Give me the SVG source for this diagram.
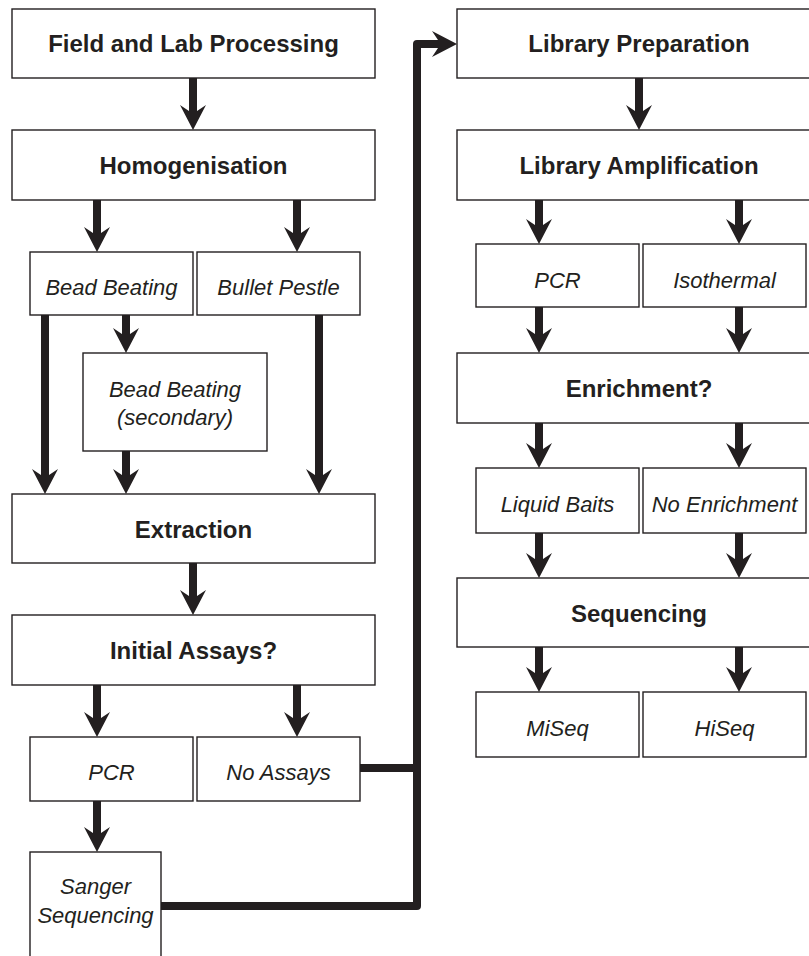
<svg xmlns="http://www.w3.org/2000/svg" width="809" height="956" viewBox="0 0 809 956">
<style>
.box{fill:#fff;stroke:#231f20;stroke-width:1.4}
.t{font-family:"Liberation Sans",Arial,sans-serif;fill:#231f20;text-anchor:middle}
.b{font-weight:bold;font-size:24px}
.i{font-style:italic;font-size:22px}
.c{fill:none;stroke:#231f20;stroke-width:8;stroke-linejoin:round}
.a{marker-end:url(#ah)}
</style>
<defs>
<marker id="ah" markerUnits="userSpaceOnUse" viewBox="-26 -14 27 28" markerWidth="27" markerHeight="28" refX="-19" refY="0" orient="auto">
<path d="M0,0 L-25,-13 L-19,-4 L-19,4 L-25,13 Z" fill="#231f20"/>
</marker>
</defs>
<rect width="809" height="956" fill="#fff"/>
<g id="connectors">
<line class="c a" x1="193" y1="78" x2="193" y2="111"/>
<line class="c a" x1="97" y1="200" x2="97" y2="233"/>
<line class="c a" x1="297" y1="200" x2="297" y2="233"/>
<line class="c a" x1="45" y1="315" x2="45" y2="475"/>
<line class="c a" x1="126" y1="315" x2="126" y2="334"/>
<line class="c a" x1="126" y1="451" x2="126" y2="475"/>
<line class="c a" x1="319" y1="315" x2="319" y2="475"/>
<line class="c a" x1="193" y1="563" x2="193" y2="596"/>
<line class="c a" x1="97" y1="685" x2="97" y2="718"/>
<line class="c a" x1="297" y1="685" x2="297" y2="718"/>
<line class="c a" x1="97" y1="801" x2="97" y2="833"/>
<path class="c a" d="M161,906 H417 V44 H438"/>
<path class="c" d="M360,768 H417"/>
<line class="c a" x1="639" y1="78" x2="639" y2="111"/>
<line class="c a" x1="539" y1="200" x2="539" y2="225"/>
<line class="c a" x1="739" y1="200" x2="739" y2="225"/>
<line class="c a" x1="539" y1="307" x2="539" y2="334"/>
<line class="c a" x1="739" y1="307" x2="739" y2="334"/>
<line class="c a" x1="539" y1="423" x2="539" y2="449"/>
<line class="c a" x1="739" y1="423" x2="739" y2="449"/>
<line class="c a" x1="539" y1="533" x2="539" y2="559"/>
<line class="c a" x1="739" y1="533" x2="739" y2="559"/>
<line class="c a" x1="539" y1="647" x2="539" y2="673"/>
<line class="c a" x1="739" y1="647" x2="739" y2="673"/>
</g>
<g id="field"><rect class="box" x="12" y="9" width="363" height="69"/><text class="t b" x="193.5" y="52">Field and Lab Processing</text></g>
<g id="homogenisation"><rect class="box" x="12" y="130" width="363" height="70"/><text class="t b" x="193.5" y="174">Homogenisation</text></g>
<g id="bead-beating"><rect class="box" x="30" y="252" width="163" height="63"/><text class="t i" x="111.5" y="295">Bead Beating</text></g>
<g id="bullet-pestle"><rect class="box" x="197" y="252" width="163" height="63"/><text class="t i" x="278.5" y="295">Bullet Pestle</text></g>
<g id="bead-beating-secondary"><rect class="box" x="83" y="353" width="184" height="98"/><text class="t i" x="175" y="397">Bead Beating</text><text class="t i" x="175" y="425">(secondary)</text></g>
<g id="extraction"><rect class="box" x="12" y="494" width="363" height="69"/><text class="t b" x="193.5" y="538">Extraction</text></g>
<g id="initial-assays"><rect class="box" x="12" y="615" width="363" height="70"/><text class="t b" x="193.5" y="659">Initial Assays?</text></g>
<g id="pcr-left"><rect class="box" x="30" y="737" width="163" height="64"/><text class="t i" x="111.5" y="780">PCR</text></g>
<g id="no-assays"><rect class="box" x="197" y="737" width="163" height="64"/><text class="t i" x="278.5" y="780">No Assays</text></g>
<g id="sanger"><rect class="box" x="30" y="852" width="131" height="120"/><text class="t i" x="95.5" y="894">Sanger</text><text class="t i" x="95.5" y="923">Sequencing</text></g>
<g id="library-preparation"><rect class="box" x="457" y="9" width="363" height="69"/><text class="t b" x="639" y="52">Library Preparation</text></g>
<g id="library-amplification"><rect class="box" x="457" y="130" width="363" height="70"/><text class="t b" x="639" y="174">Library Amplification</text></g>
<g id="pcr-right"><rect class="box" x="476" y="244" width="163" height="63"/><text class="t i" x="557.5" y="288">PCR</text></g>
<g id="isothermal"><rect class="box" x="643" y="244" width="163" height="63"/><text class="t i" x="724.5" y="288">Isothermal</text></g>
<g id="enrichment"><rect class="box" x="457" y="353" width="363" height="70"/><text class="t b" x="639" y="397">Enrichment?</text></g>
<g id="liquid-baits"><rect class="box" x="476" y="468" width="163" height="65"/><text class="t i" x="557.5" y="512">Liquid Baits</text></g>
<g id="no-enrichment"><rect class="box" x="643" y="468" width="163" height="65"/><text class="t i" x="724.5" y="512">No Enrichment</text></g>
<g id="sequencing"><rect class="box" x="457" y="578" width="363" height="69"/><text class="t b" x="639" y="622">Sequencing</text></g>
<g id="miseq"><rect class="box" x="476" y="692" width="163" height="65"/><text class="t i" x="557.5" y="736">MiSeq</text></g>
<g id="hiseq"><rect class="box" x="643" y="692" width="163" height="65"/><text class="t i" x="724.5" y="736">HiSeq</text></g>
</svg>
